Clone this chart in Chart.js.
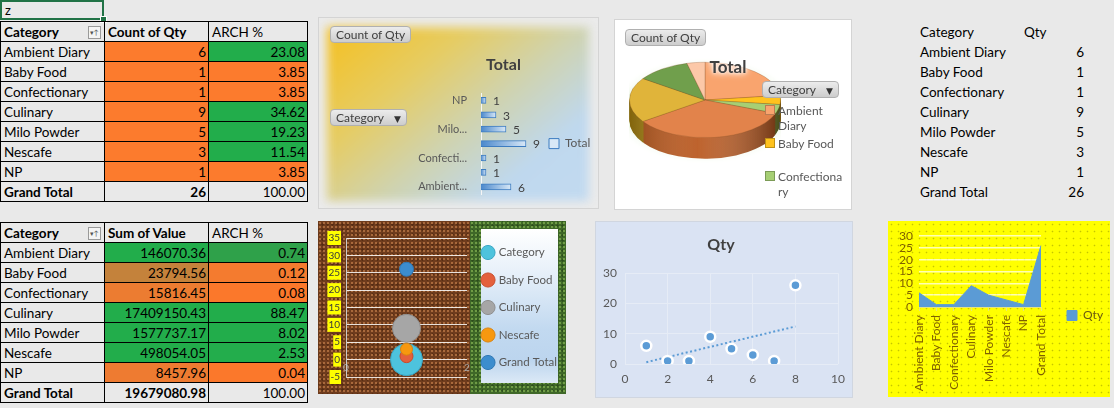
<!DOCTYPE html>
<html>
<head>
<meta charset="utf-8">
<title>Qty by category</title>
<script src="https://cdn.jsdelivr.net/npm/chart.js@4.4.1/dist/chart.umd.min.js"></script>
<style>
  body { margin:0; width:1114px; height:408px; background:#e9e9e9; position:relative; overflow:hidden; font-family:Lato, "DejaVu Sans", sans-serif; color:#000; }
  .abs { position:absolute; }
  canvas { position:absolute; }
  #cellZ { left:0; top:0; width:97px; height:16px; border:2px solid #217346; font-size:13px; line-height:16px; padding-left:3px; }
  #cellZ i { position:absolute; right:-5px; bottom:-5px; width:5px; height:5px; background:#217346; border:1px solid #fff; }
  table.pv { position:absolute; left:0; border-collapse:collapse; table-layout:fixed; font-size:13.5px; }
  table.pv td { border:1px solid #000; height:19px; padding:0 3px 0 3px; overflow:hidden; white-space:nowrap; line-height:18px; position:relative; }
  table.pv td.n { text-align:right; padding-right:2px; }
  table.pv td.b { font-weight:bold; }
  .flt { position:absolute; right:3px; top:4px; width:11px; height:11px; border:1px solid #9a9a9a; background:#f4f4f4; font-size:7px; line-height:11px; text-align:center; color:#555; font-weight:normal; }
  .plain { font-size:13.5px; line-height:20px; }
  .btn { position:absolute; height:15px; border:1px solid #b0b0b0; border-radius:4px; background:linear-gradient(#ececec,#cdcdcd); font-size:12px; line-height:15px; color:#404040; padding:0 5px; white-space:nowrap; }
  .btn b { font-size:9px; margin-left:10px; color:#333; }
  .leg { position:absolute; font-size:12px; line-height:15px; color:#595959; }
  .leg s { position:absolute; left:0; top:2px; width:8px; height:8px; border:1px solid rgba(0,0,0,0.25); }
  .leg span { display:block; margin-left:13px; width:67px; }
</style>
</head>
<body>

<div id="cellZ" class="abs">z<i></i></div>
<table id="t1" class="pv" style="top:21px"></table>
<table id="t2" class="pv" style="top:222px"></table>
<div id="t3" class="abs" style="left:920px;top:22px;width:164px"></div>

<!-- horizontal bar pivot chart -->
<div class="abs" style="left:318px;top:17px;width:279px;height:190px;border:1px solid #d4d4d4;background:#ebebeb;overflow:hidden">
  <div class="abs" style="left:8px;top:9px;width:262px;height:174px;background:linear-gradient(140deg,#f5c020 0%,#e6cc62 30%,#cfd3b0 55%,#bfd8ee 78%,#c2daf0 100%);filter:blur(5px)"></div>
</div>
<canvas id="bar" width="281" height="192" style="left:318px;top:17px"></canvas>
<div class="btn" style="left:330px;top:26px">Count of Qty</div>
<div class="btn" style="left:330px;top:109px">Category<b>&#9660;</b></div>

<!-- 3d pie pivot chart -->
<div class="abs" style="left:614px;top:19px;width:236px;height:189px;border:1px solid #d4d4d4;background:#fff"></div>
<canvas id="pie" width="152" height="152" style="left:629px;top:24px"></canvas>
<div class="abs" style="left:700px;top:56px;width:56px;text-align:center;font-size:17px;font-weight:bold;color:#404040;text-shadow:0 0 3px #fff,0 0 6px #fff,0 0 9px #fff">Total</div>
<div class="btn" style="left:625px;top:29px">Count of Qty</div>
<div class="btn" style="left:762px;top:81px">Category<b>&#9660;</b></div>
<div id="pieLegend" class="abs" style="left:765px;top:103px;width:86px;height:100px;overflow:hidden"></div>

<!-- bubble chart -->
<div class="abs" style="left:318px;top:221px;width:248px;height:173px;overflow:hidden;background-color:#3f6828;background-image:radial-gradient(circle,#6f9c46 0.9px,transparent 1.4px),radial-gradient(circle,#2c4e1c 0.9px,transparent 1.4px);background-size:4px 4px,5px 5px;background-position:0 0,2px 2px">
  <div class="abs" style="left:0;top:0;width:152px;height:173px;background-color:#6f3c1d;background-image:radial-gradient(circle,#a8693c 0.9px,transparent 1.5px),radial-gradient(circle,#552b12 0.9px,transparent 1.5px);background-size:4px 4px,5px 5px;background-position:0 0,2px 1px"></div>
  <div class="abs" style="left:163px;top:8px;width:77px;height:154px;background:linear-gradient(#ffffff 0%,#eaf2fa 25%,#c2d9f0 65%,#bcd5ee 85%,#dce9f6 100%)"></div>
</div>
<canvas id="bubble" width="248" height="173" style="left:318px;top:221px"></canvas>

<!-- scatter chart -->
<div class="abs" style="left:595px;top:221px;width:256px;height:175px;border:1px solid #d0d6e0;background:#dae3f3"></div>
<canvas id="scatter" width="258" height="177" style="left:595px;top:221px"></canvas>

<!-- area chart -->
<div class="abs" style="left:888px;top:221px;width:222px;height:176px;background-color:#ffff00;background-image:radial-gradient(circle,#c6c600 0.7px,transparent 1.1px);background-size:7px 7px"></div>
<canvas id="area" width="222" height="176" style="left:888px;top:221px"></canvas>

<script>
// pivot data
var categories = ['Ambient Diary', 'Baby Food', 'Confectionary', 'Culinary', 'Milo Powder', 'Nescafe', 'NP'];
var qtyCount = [6, 1, 1, 9, 5, 3, 1];
var qtyShare = [23.08, 3.85, 3.85, 34.62, 19.23, 11.54, 3.85];
var qtyTotal = 26;
var valueSum = [146070.36, 23794.56, 15816.45, 17409150.43, 1577737.17, 498054.05, 8457.96];
var valueShare = [0.74, 0.12, 0.08, 88.47, 8.02, 2.53, 0.04];
var valueTotal = 19679080.98;

// area / scatter series (categories + grand total)
var areaLabels = ['Ambient Diary', 'Baby Food', 'Confectionary', 'Culinary', 'Milo Powder', 'Nescafe', 'NP', 'Grand Total'];
var areaQty = [6, 1, 1, 9, 5, 3, 1, 26];
var scatterX = [1, 2, 3, 4, 5, 6, 7, 8];
var scatterY = [6, 1, 1, 9, 5, 3, 1, 26];
var trendX = [1, 8];
var trendY = [0.6, 12.4];

// bubble series
var bubbleNames = ['Category', 'Baby Food', 'Culinary', 'Nescafe', 'Grand Total'];
var bubbleX = [1, 1, 1, 1, 1];
var bubbleY = [0, 1, 9, 3, 26];
var bubbleR = [16, 6.5, 14, 6, 7];

// tick ranges [min, max, step]
var bubbleYTicks = [-5, 35, 5];
var bubbleXTicks = [0, 2, 1];
var scatterXTicks = [0, 10, 2];
var scatterYTicks = [0, 30, 10];
var areaYTicks = [0, 30, 5];

// cell fills (conditional formatting look)
var orange = '#fc7b2d', green = '#22ad4b';
var sumFill = [green, '#c4823b', '#ec7c31', green, green, green, '#ee7b31'];
var sumShareFill = ['#2fa14a', '#f47b2f', '#fb782b', green, green, '#23ad4c', '#fb782b'];

Chart.defaults.font.family = 'Lato, "DejaVu Sans", sans-serif';
Chart.defaults.animation = false;

function buildPivot(id, heads, col1, col2, fill1, fill2, total1, total2) {
    var h = '<colgroup><col style="width:104px"><col style="width:104px"><col style="width:99px"></colgroup>';
    h += '<tr><td class="b">' + heads[0] + '<span class="flt">&#9662;&#8593;</span></td><td class="b">' + heads[1] + '</td><td>' + heads[2] + '</td></tr>';
    for (var i = 0; i < categories.length; i++) {
        h += '<tr><td>' + categories[i] + '</td>' +
            '<td class="n" style="background:' + fill1(i) + '">' + col1(i) + '</td>' +
            '<td class="n" style="background:' + fill2(i) + '">' + col2(i) + '</td></tr>';
    }
    h += '<tr><td class="b">Grand Total</td><td class="n b">' + total1 + '</td><td class="n">' + total2 + '</td></tr>';
    document.getElementById(id).innerHTML = h;
}

buildPivot('t1', ['Category', 'Count of Qty', 'ARCH %'],
    function(i) { return qtyCount[i]; },
    function(i) { return qtyShare[i].toFixed(2); },
    function(i) { return orange; },
    function(i) { return qtyShare[i] > 5 ? green : orange; },
    qtyTotal, (100).toFixed(2));

buildPivot('t2', ['Category', 'Sum of Value', 'ARCH %'],
    function(i) { return valueSum[i].toFixed(2); },
    function(i) { return valueShare[i].toFixed(2); },
    function(i) { return sumFill[i]; },
    function(i) { return sumShareFill[i]; },
    valueTotal.toFixed(2), (100).toFixed(2));

// plain copy of the pivot on the right
var t3 = '<div class="plain" style="position:relative">Category<span style="position:absolute;left:104px">Qty</span></div>';
areaLabels.forEach(function(name, i) {
    t3 += '<div class="plain" style="position:relative">' + name + '<span style="position:absolute;right:0">' + areaQty[i] + '</span></div>';
});
document.getElementById('t3').innerHTML = t3;

// ---------- horizontal bar ----------
var shortName = function(s) {
    if (s.length <= 8) return s;
    var first = s.split(' ')[0];
    return (first.length < s.length ? first : s.slice(0, 8)) + '...';
};

var barFill = function(ctx) {
    var ch = ctx.chart;
    if (!ch.chartArea) return '#5b9bd5';
    var xs = ch.scales.x;
    var x0 = xs.getPixelForValue(0), x1 = xs.getPixelForValue(ctx.raw);
    var g = ch.ctx.createLinearGradient(x0, 0, Math.max(x1, x0 + 2), 0);
    g.addColorStop(0, '#4a88cc');
    g.addColorStop(1, '#d8e8f7');
    return g;
};

var barValues = {
    id: 'barValues',
    afterDatasetsDraw: function(chart) {
        var c = chart.ctx;
        c.save();
        c.font = '12px Lato';
        c.fillStyle = '#404040';
        c.textBaseline = 'middle';
        chart.getDatasetMeta(0).data.forEach(function(bar, i) {
            c.fillText(chart.data.datasets[0].data[i], bar.x + 7, bar.y + 1);
        });
        c.restore();
    }
};

new Chart(document.getElementById('bar'), {
    type: 'bar',
    data: {
        labels: categories,
        datasets: [{
            label: 'Total',
            data: qtyCount,
            backgroundColor: barFill,
            borderColor: '#3d7cc0',
            borderWidth: 1,
            barThickness: 6
        }]
    },
    options: {
        responsive: false,
        indexAxis: 'y',
        layout: { padding: { left: 90, right: 0, top: 38, bottom: 15 } },
        scales: {
            x: { display: false, min: 0, max: 10 },
            y: {
                reverse: true,
                grid: { display: false },
                border: { color: '#f6f6f6' },
                afterFit: function(s) { s.width = 73; },
                ticks: {
                    autoSkip: false, color: '#595959', font: { size: 11 }, padding: 6,
                    callback: function(v, i) { return i % 2 ? '' : shortName(categories[i]); }
                }
            }
        },
        plugins: {
            title: { display: true, text: 'Total', color: '#404040', font: { size: 16, weight: 'bold' }, padding: { top: 0, bottom: 19 } },
            legend: { position: 'right', fullSize: false, maxWidth: 68, labels: { boxWidth: 10, boxHeight: 10, padding: 18, color: '#595959', font: { size: 12 } } },
            tooltip: { enabled: false }
        }
    },
    plugins: [barValues]
});

// ---------- 3d pie ----------
var pieTop = ['#f9a46e', '#ffc21e', '#a6cf74', '#e2834b', '#e0b43a', '#709f4c', '#fcc8a8'];
var pieSide = ['#c9672c', '#c89a10', '#6f9a3c', '#b8561c', '#a88a14', '#4d7330', '#d99a70'];

var tilt3d = {
    id: 'tilt3d',
    beforeDatasetsDraw: function(chart, args, opts) {
        var c = chart.ctx;
        var arcs = chart.getDatasetMeta(0).data;
        if (!arcs.length) return;
        var cx = arcs[0].x, cy = arcs[0].y, r = arcs[0].outerRadius;
        var k = opts.tilt, dep = opts.depth / k;
        c.save();
        c.translate(cx, cy);
        c.scale(1, k);
        c.translate(-cx, -cy);
        for (var d = dep; d > 0; d -= 1 / k) {
            arcs.forEach(function(a, i) {
                c.beginPath();
                c.moveTo(cx, cy + d);
                c.arc(cx, cy + d, r, a.startAngle, a.endAngle);
                c.closePath();
                c.fillStyle = pieSide[i];
                c.fill();
            });
        }
        // lighting on the rim
        c.globalCompositeOperation = 'source-atop';
        var g = c.createLinearGradient(cx - r, 0, cx + r, 0);
        g.addColorStop(0, 'rgba(60,30,0,0.35)');
        g.addColorStop(0.45, 'rgba(255,255,255,0.08)');
        g.addColorStop(1, 'rgba(40,15,0,0.55)');
        c.fillStyle = g;
        c.fillRect(cx - r - 2, cy - r - 2, 2 * r + 4, 2 * r + dep + 4);
        // soft green glow behind
        c.globalCompositeOperation = 'destination-over';
        c.save();
        c.shadowColor = 'rgba(160,215,110,0.9)';
        c.shadowBlur = 14;
        c.beginPath();
        c.arc(cx, cy + dep / 2, r, 0, Math.PI * 2);
        c.fillStyle = '#fff';
        c.fill();
        c.restore();
        c.globalCompositeOperation = 'source-over';
    },
    afterDatasetsDraw: function(chart) {
        chart.ctx.restore();
    }
};

new Chart(document.getElementById('pie'), {
    type: 'pie',
    data: {
        labels: categories,
        datasets: [{ data: qtyCount, backgroundColor: pieTop, borderColor: 'rgba(120,70,30,0.35)', borderWidth: 1, clip: false }]
    },
    options: {
        responsive: false,
        plugins: { legend: { display: false }, tooltip: { enabled: false }, tilt3d: { tilt: 0.5, depth: 21 } }
    },
    plugins: [tilt3d]
});

var legendHtml = '';
[0, 1, 2].forEach(function(i) {
    var tops = [0, 33, 66];
    legendHtml += '<div class="leg" style="left:0;top:' + tops[i] + 'px"><s style="background:' + pieTop[i] + '"></s><span' +
        (categories[i].indexOf(' ') < 0 ? ' style="word-break:break-all"' : '') + '>' + categories[i] + '</span></div>';
});
document.getElementById('pieLegend').innerHTML = legendHtml;

// ---------- bubble ----------
var bubbleColors = ['#4dc3dd', '#e4603c', '#a6a6a6', '#f7980f', '#3c8dce'];
var bubbleBorders = ['#3aa6c4', '#c84c2c', '#8e8e8e', '#d98210', '#2f77b3'];

new Chart(document.getElementById('bubble'), {
    type: 'bubble',
    data: {
        datasets: bubbleNames.map(function(name, i) {
            return {
                label: name,
                data: [{ x: bubbleX[i], y: bubbleY[i], r: bubbleR[i] }],
                backgroundColor: bubbleColors[i],
                borderColor: bubbleBorders[i],
                borderWidth: 1,
                order: bubbleNames.length - i
            };
        })
    },
    options: {
        responsive: false,
        layout: { padding: 0 },
        scales: {
            x: {
                min: bubbleXTicks[0], max: bubbleXTicks[1],
                grid: { display: false, drawTicks: false }, border: { display: false },
                afterFit: function(s) { s.height = 14; },
                ticks: { stepSize: bubbleXTicks[2], color: '#a8a8a8', font: { size: 10 }, mirror: true, padding: 3 }
            },
            y: {
                min: bubbleYTicks[0], max: bubbleYTicks[1],
                grid: { color: 'rgba(255,255,255,0.85)', drawTicks: false },
                border: { color: '#c8c8c8' },
                afterFit: function(s) { s.width = 28; },
                ticks: { stepSize: bubbleYTicks[2], color: '#3a3a3a', font: { size: 10 }, padding: 6, showLabelBackdrop: true, backdropColor: '#ffff00', backdropPadding: 1 }
            }
        },
        plugins: {
            // empty title only reserves the strip above the plot
            title: { display: true, text: '', font: { size: 0.01 }, padding: { top: 14, bottom: 0 } },
            legend: {
                position: 'right', maxWidth: 99,
                labels: {
                    usePointStyle: true, pointStyle: 'circle', boxWidth: 10, boxHeight: 10, padding: 16,
                    color: '#595959', font: { size: 11.5 },
                    sort: function(a, b) { return a.datasetIndex - b.datasetIndex; }
                }
            },
            tooltip: { enabled: false }
        }
    }
});

// ---------- scatter ----------
new Chart(document.getElementById('scatter'), {
    type: 'scatter',
    data: {
        datasets: [{
            label: 'Qty',
            data: scatterX.map(function(x, i) { return { x: x, y: scatterY[i] }; }),
            backgroundColor: '#5b9bd5',
            borderColor: '#ffffff',
            borderWidth: 2.5,
            pointRadius: 5
        }, {
            type: 'line',
            label: 'Linear (Qty)',
            data: trendX.map(function(x, i) { return { x: x, y: trendY[i] }; }),
            borderColor: '#5b9bd5',
            borderWidth: 2,
            borderDash: [2, 2.5],
            pointRadius: 0,
            fill: false
        }]
    },
    options: {
        responsive: false,
        layout: { padding: { left: 8, right: 14, top: 10, bottom: 12 } },
        scales: {
            x: {
                min: scatterXTicks[0], max: scatterXTicks[1],
                grid: { color: '#e6ecf6', drawTicks: false }, border: { display: false },
                afterFit: function(s) { s.height = 22; },
                ticks: { stepSize: scatterXTicks[2], color: '#595959', font: { size: 12 }, padding: 8 }
            },
            y: {
                min: scatterYTicks[0], max: scatterYTicks[1],
                grid: { color: '#e6ecf6', drawTicks: false }, border: { display: false },
                afterFit: function(s) { s.width = 22; },
                ticks: { stepSize: scatterYTicks[2], color: '#595959', font: { size: 12 }, padding: 8 }
            }
        },
        plugins: {
            title: { display: true, text: 'Qty', color: '#404040', font: { size: 16, weight: 'bold' }, padding: { top: 4, bottom: 19 } },
            legend: { display: false },
            tooltip: { enabled: false }
        }
    }
});

// ---------- area ----------
new Chart(document.getElementById('area'), {
    type: 'line',
    data: {
        labels: areaLabels,
        datasets: [{
            label: 'Qty',
            data: areaQty,
            fill: 'origin',
            backgroundColor: '#5b9bd5',
            borderColor: '#5b9bd5',
            borderWidth: 1,
            pointRadius: 0,
            tension: 0
        }]
    },
    options: {
        responsive: false,
        layout: { padding: { left: 0, right: 0, top: 15, bottom: 2 } },
        scales: {
            x: {
                grid: { drawOnChartArea: false, drawTicks: true, tickLength: 4, color: '#e6e67a' },
                border: { color: '#e6e67a' },
                afterFit: function(s) { s.height = 88; },
                ticks: { autoSkip: false, minRotation: 90, maxRotation: 90, color: '#7f6000', font: { size: 12 }, padding: 4 }
            },
            y: {
                min: areaYTicks[0], max: areaYTicks[1],
                grid: { color: 'rgba(255,255,225,0.8)', lineWidth: 1.5, drawTicks: false },
                border: { display: false },
                afterFit: function(s) { s.width = 31; },
                ticks: { autoSkip: false, stepSize: areaYTicks[2], color: '#7f6000', font: { size: 12 }, padding: 6 }
            }
        },
        plugins: {
            legend: { position: 'right', maxWidth: 69, labels: { boxWidth: 10, boxHeight: 10, padding: 26, color: '#6b5a10', font: { size: 12 } } },
            tooltip: { enabled: false }
        }
    }
});
</script>
</body>
</html>
